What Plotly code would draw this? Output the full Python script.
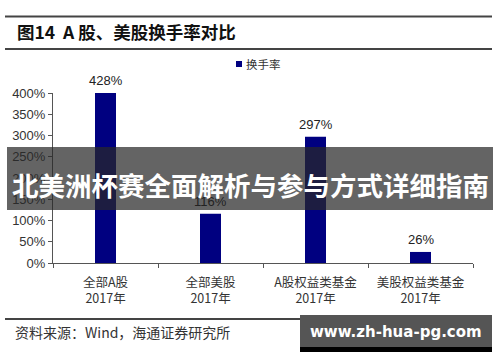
import plotly.graph_objects as go

categories = ["全部A股<br>2017年", "全部美股<br>2017年", "A股权益类基金<br>2017年", "美股权益类基金<br>2017年"]
turnover = [4.28, 1.16, 2.97, 0.26]
value_labels = ["428%", "116%", "297%", "26%"]
y_ticks = [0, 0.5, 1.0, 1.5, 2.0, 2.5, 3.0, 3.5, 4.0]
y_tick_labels = ["0%", "50%", "100%", "150%", "200%", "250%", "300%", "350%", "400%"]
y_max = 4.0

FONT = "Liberation Sans, Arial, Noto Sans CJK SC, sans-serif"
CJK = "Noto Sans CJK SC, Liberation Sans, sans-serif"

fig = go.Figure()
fig.add_trace(go.Bar(
    x=categories, y=turnover, name="换手率",
    marker=dict(color="#000080", line=dict(width=0)),
    showlegend=False,
))

# data labels above visible bar tops
for c, v, t in zip(categories, turnover, value_labels):
    fig.add_annotation(x=c, y=min(v, y_max), xref="x", yref="y", text=t,
                       showarrow=False, yanchor="bottom", yshift=3,
                       font=dict(family=FONT, size=13, color="#222222"))

W, H = 500, 362
fig.update_layout(
    width=W, height=H,
    margin=dict(l=53, r=27, t=93, b=99),
    paper_bgcolor="white", plot_bgcolor="white",
    bargap=0.8,
    font=dict(family=FONT, size=12, color="#333333"),
    xaxis=dict(
        type="category", showline=True, linecolor="#555555", linewidth=1,
        ticks="outside", ticklen=4, tickcolor="#555555", tickson="boundaries",
        tickfont=dict(family=CJK, size=12.5, color="#333333"),
        ticklabelstandoff=8,
        showgrid=False, zeroline=False,
    ),
    yaxis=dict(
        range=[0, y_max], tickvals=y_ticks, ticktext=y_tick_labels,
        showline=True, linecolor="#555555", linewidth=1,
        ticks="outside", ticklen=4, tickcolor="#555555",
        tickfont=dict(family=FONT, size=13, color="#333333"),
        showgrid=False, zeroline=False,
    ),
)

def pline(y, x0=5, x1=492, color="#444444", width=2):
    fig.add_shape(type="line", xref="paper", yref="paper",
                  x0=(x0 - 53) / 420, x1=(x1 - 53) / 420,
                  y0=(263 - y) / 170, y1=(263 - y) / 170,
                  line=dict(color=color, width=width))

def prect(x0, y0, x1, y1, fill, layer="above"):
    fig.add_shape(type="rect", xref="paper", yref="paper",
                  x0=(x0 - 53) / 420, x1=(x1 - 53) / 420,
                  y0=(263 - y1) / 170, y1=(263 - y0) / 170,
                  fillcolor=fill, line=dict(width=0), layer=layer)

def ptext(x, y, text, size, color="#111111", family=CJK, xanchor="left", bold=False):
    if bold:
        text = "<b>" + text + "</b>"
    fig.add_annotation(xref="paper", yref="paper", x=(x - 53) / 420, y=(263 - y) / 170,
                       text=text, showarrow=False, xanchor=xanchor, yanchor="middle",
                       font=dict(family=family, size=size, color=color))

# header rules and title
pline(16.5)
pline(49)
ptext(15, 32, "图14  A 股、美股换手率对比", 17.5, color="#111111", bold=True)

# legend
prect(236, 61, 242, 67, "#000080")
ptext(244, 64, "换手率", 11.5, color="#333333")

# bottom rule and source
pline(319)
ptext(13, 332, "资料来源：Wind，海通证券研究所", 14, color="#333333")

# overlay banner
prect(7, 147, 493, 210, "rgba(40,40,40,0.72)")
ptext(250, 184, "北美洲杯赛全面解析与参与方式详细指南", 26.5, color="white", xanchor="center", bold=True)

# watermark box
prect(300, 315, 492, 352, "#555555")
prect(300, 347, 492, 352, "#000000")
ptext(396, 332, "www.zh-hua-pg.com", 15, color="white", family="DejaVu Sans, sans-serif", xanchor="center", bold=True)

fig.write_html("out.html")
